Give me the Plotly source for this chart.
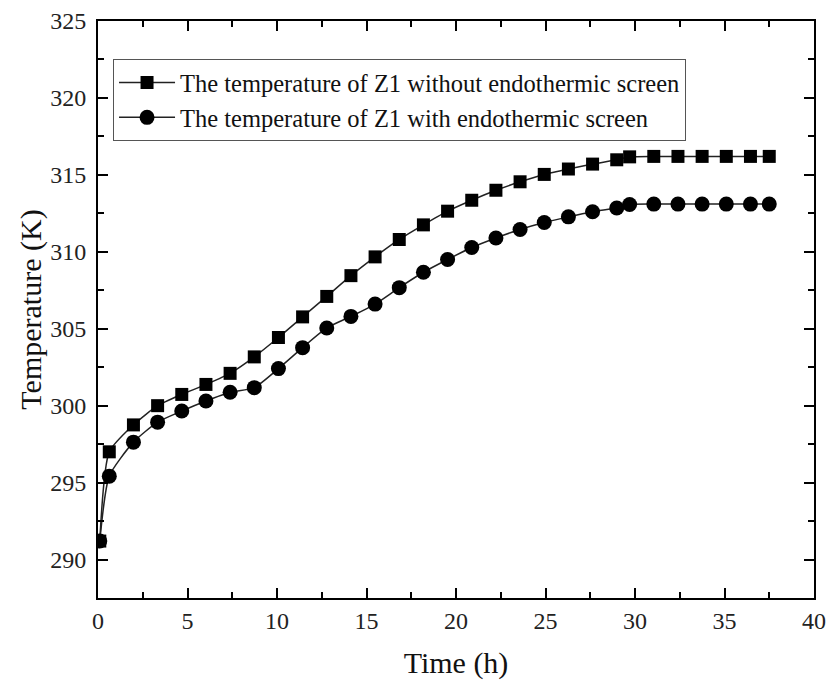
import plotly.graph_objects as go

time_h = [0.1, 0.63, 1.98, 3.33, 4.68, 6.03, 7.38, 8.73, 10.08, 11.43, 12.78, 14.13,
          15.48, 16.83, 18.18, 19.53, 20.88, 22.23, 23.58, 24.93, 26.28, 27.63, 28.98,
          29.7, 31.05, 32.4, 33.75, 35.1, 36.45, 37.5]

temp_without = [291.2, 297.0, 298.75, 300.0, 300.73, 301.38, 302.1, 303.17, 304.43, 305.77,
                307.1, 308.45, 309.67, 310.8, 311.75, 312.64, 313.35, 314.0, 314.55, 315.03,
                315.38, 315.7, 315.98, 316.17, 316.2, 316.2, 316.2, 316.2, 316.2, 316.2]

temp_with = [291.2, 295.42, 297.63, 298.93, 299.65, 300.3, 300.87, 301.17, 302.41, 303.77,
             305.05, 305.8, 306.6, 307.67, 308.67, 309.5, 310.28, 310.9, 311.45, 311.9,
             312.27, 312.6, 312.85, 313.07, 313.1, 313.1, 313.1, 313.1, 313.1, 313.1]

series_names = ["The temperature of Z1 without endothermic screen",
                "The temperature of Z1 with endothermic screen"]

x_ticks = [0, 5, 10, 15, 20, 25, 30, 35, 40]
y_ticks = [290, 295, 300, 305, 310, 315, 320, 325]

FONT = "Liberation Serif"

fig = go.Figure()
fig.add_trace(go.Scatter(
    x=time_h, y=temp_without, name=series_names[0], mode="lines+markers",
    line=dict(color="#222222", width=1.5, shape="spline", smoothing=0.6),
    marker=dict(symbol="square", size=13, color="black"),
))
fig.add_trace(go.Scatter(
    x=time_h, y=temp_with, name=series_names[1], mode="lines+markers",
    line=dict(color="#222222", width=1.5, shape="spline", smoothing=0.6),
    marker=dict(symbol="circle", size=15, color="black"),
))

axis_common = dict(
    showline=True, linecolor="black", linewidth=2, mirror="allticks",
    ticks="inside", ticklen=10, tickwidth=2, tickcolor="black",
    showgrid=False, zeroline=False, automargin=False,
    tickfont=dict(family=FONT, size=24, color="#222222"),
    minor=dict(ticks="inside", ticklen=6, tickwidth=2, tickcolor="black", showgrid=False),
)

fig.update_xaxes(range=[0, 40], tickvals=x_ticks,
                 title=dict(text="Time (h)", font=dict(family=FONT, size=30, color="#111111"), standoff=19),
                 ticklabelstandoff=0, **axis_common)
fig.update_yaxes(range=[287.5, 325], tickvals=y_ticks,
                 title=dict(text="Temperature (K)", font=dict(family=FONT, size=30, color="#111111"), standoff=0),
                 ticklabelstandoff=5, **axis_common)
fig.update_xaxes(minor_dtick=2.5, minor_tick0=0)
fig.update_yaxes(minor_dtick=2.5, minor_tick0=0)

fig.update_layout(
    width=828, height=684,
    margin=dict(l=98, r=14, t=21, b=86),
    plot_bgcolor="white", paper_bgcolor="white",
    font=dict(family=FONT, color="#111111"),
    showlegend=True,
    legend=dict(x=0.021, y=0.934, xanchor="left", yanchor="top",
                bordercolor="#555555", borderwidth=1, bgcolor="white",
                font=dict(family=FONT, size=24.5, color="#111111"),
                tracegroupgap=0, itemsizing="trace", itemwidth=56),
)

fig.write_html("out.html", config={"displayModeBar": False},
               post_script="document.body.style.margin='0';")
